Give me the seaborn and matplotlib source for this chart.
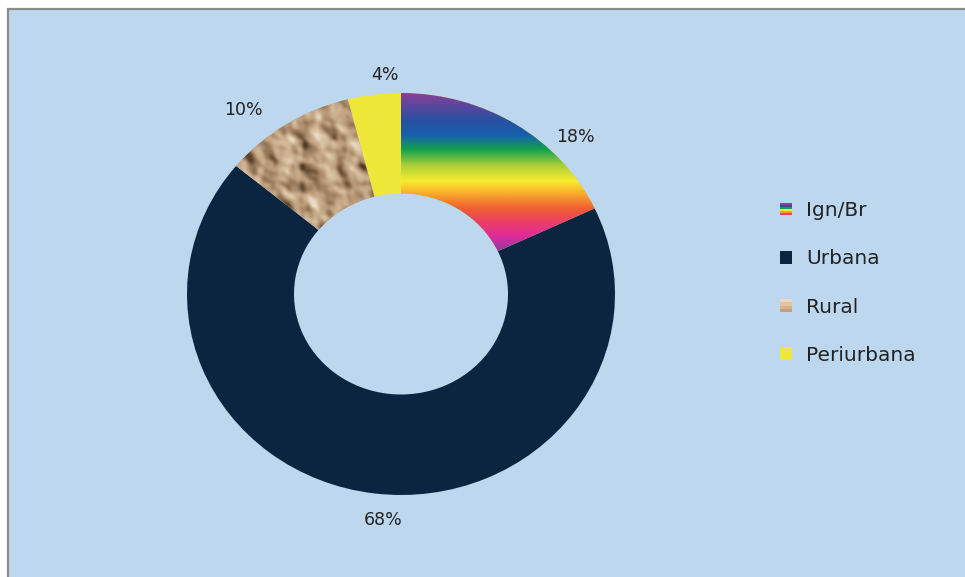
import numpy as np
import matplotlib
matplotlib.use("Agg")
import matplotlib.pyplot as plt
import seaborn as sns
from matplotlib.patches import Rectangle
from matplotlib.legend_handler import HandlerBase
from matplotlib.colors import LinearSegmentedColormap

# ---- data -------------------------------------------------------------
categories = ["Ign/Br", "Urbana", "Rural", "Periurbana"]
shares = [18, 68, 10, 4]

# ---- style ------------------------------------------------------------
sns.set_theme(style="white")
plt.rcParams["font.family"] = ["DejaVu Sans"]

BG = "#BDD7EE"
NAVY = "#0B2541"
YELLOW = "#EEE83A"
TAN = "#B89A78"
TEXT = "#222222"

rainbow_stops = [
    (0.00, "#8A3F99"), (0.17, "#2B4FA2"), (0.27, "#1760AD"),
    (0.36, "#12A04E"), (0.46, "#A9CF3A"), (0.56, "#F8EC2D"),
    (0.65, "#F8A22E"), (0.73, "#F0602F"), (0.82, "#EC3F66"),
    (0.91, "#DF2A9C"), (1.00, "#8E3F9F"),
]
rainbow = LinearSegmentedColormap.from_list("ignbr", rainbow_stops)
soil = LinearSegmentedColormap.from_list(
    "soil", ["#503A25", "#8E7052", "#B99B7A", "#D3BA9A", "#EBDDC6"])

fig = plt.figure(figsize=(9.65, 5.77), dpi=100, facecolor="white")

# chart area panel with a thin grey frame
fig.patches.append(Rectangle((8 / 965, -0.05), 1.1, 1.05 - 9 / 577,
                             transform=fig.transFigure, facecolor=BG,
                             edgecolor="#8C8C8C", linewidth=1.6, zorder=-10))

ax = fig.add_axes([187 / 965, 82 / 577, 428 / 965, 402 / 577])
ax.set_facecolor("none")

wedges, _ = ax.pie(shares, colors=[rainbow(0.5), NAVY, TAN, YELLOW],
                   startangle=90, counterclock=False, radius=1.0,
                   wedgeprops=dict(width=0.5, linewidth=0))
ax.set_aspect("auto")
ax.set_xlim(-1, 1)
ax.set_ylim(-1, 1)
ax.axis("off")

# vertical rainbow fill for the first ring segment
w0 = wedges[0]
b0 = w0.get_path().get_extents()
grad = np.linspace(0, 1, 400)[:, None] * np.ones((1, 4))
im0 = ax.imshow(grad, cmap=rainbow, aspect="auto", origin="upper",
                extent=[b0.x0, b0.x1, b0.y0, b0.y1], zorder=3,
                interpolation="bilinear")
im0.set_clip_path(w0)

# crumpled soil texture for the rural segment
w2 = wedges[2]
b2 = w2.get_path().get_extents()
rng = np.random.default_rng(11)
n = 256
field = rng.normal(size=(n, n))
fy = np.fft.fftfreq(n)[:, None]
fx = np.fft.fftfreq(n)[None, :]
smooth = np.real(np.fft.ifft2(np.fft.fft2(field) *
                              np.exp(-((fx * 50) ** 2 + (fy * 40) ** 2))))
fine = np.real(np.fft.ifft2(np.fft.fft2(field[::-1]) *
                            np.exp(-((fx * 22) ** 2 + (fy * 22) ** 2))))
tex = smooth / smooth.std() + 0.35 * fine / fine.std()
ridge = np.gradient(tex, axis=1) - 0.7 * np.gradient(tex, axis=0)
tex = 0.6 * tex + 1.4 * ridge / ridge.std()
tex = (tex - tex.min()) / (tex.max() - tex.min())
im2 = ax.imshow(tex, cmap=soil, aspect="auto", vmin=0.05, vmax=0.92,
                extent=[b2.x0, b2.x1, b2.y0, b2.y1], zorder=3,
                interpolation="bilinear")
im2.set_clip_path(w2)

# percentage labels around the ring
label_pos = [(0.813, 0.781), (-0.084, -1.124), (-0.734, 0.915), (-0.075, 1.090)]
for v, (x, y) in zip(shares, label_pos):
    ax.text(x, y, f"{v}%", ha="center", va="center", fontsize=12.5,
            color=TEXT, zorder=5)


class StripeHandler(HandlerBase):
    def __init__(self, colors):
        super().__init__()
        self.colors = colors

    def create_artists(self, legend, orig_handle, xdescent, ydescent,
                       width, height, fontsize, trans):
        k = len(self.colors)
        out = []
        for i, c in enumerate(self.colors):
            out.append(Rectangle((-xdescent, -ydescent + height * (k - 1 - i) / k),
                                 width, height / k, facecolor=c,
                                 edgecolor="none", transform=trans))
        return out


handles = [Rectangle((0, 0), 1, 1, facecolor=c, edgecolor="none")
           for c in ["#7a4", NAVY, "#E3C3A2", YELLOW]]
handler_map = {
    handles[0]: StripeHandler(["#8A3F99", "#2B4FA2", "#12A04E", "#F8EC2D",
                               "#F8A22E", "#EC3F66"]),
    handles[2]: StripeHandler(["#EFD8BF", "#E3C3A2", "#D8B28E", "#C89E78"]),
}
fig.legend(handles, categories, handler_map=handler_map,
           loc="center left", bbox_to_anchor=(780 / 965, 1 - 283 / 577),
           frameon=False, fontsize=14.5, labelcolor=TEXT,
           handlelength=0.6, handleheight=0.6, handletextpad=0.7,
           labelspacing=1.45, borderpad=0, borderaxespad=0)

fig.savefig("out.png", dpi=100, facecolor="white")
